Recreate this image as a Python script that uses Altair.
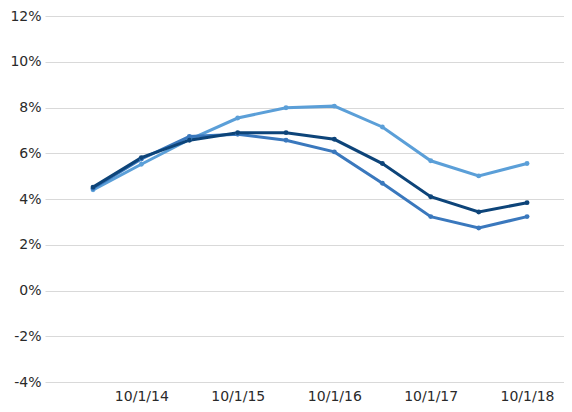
import altair as alt
import pandas as pd

dates = ["2014-04-01", "2014-10-01", "2015-04-01", "2015-10-01", "2016-04-01",
         "2016-10-01", "2017-04-01", "2017-10-01", "2018-04-01", "2018-10-01"]
series_dark = [4.52, 5.81, 6.57, 6.90, 6.90, 6.61, 5.55, 4.10, 3.43, 3.84]
series_medium = [4.47, 5.75, 6.73, 6.83, 6.57, 6.06, 4.69, 3.23, 2.73, 3.23]
series_light = [4.40, 5.52, 6.60, 7.54, 7.99, 8.06, 7.15, 5.67, 5.01, 5.55]

names = ["Light", "Medium", "Dark"]
colors = ["#5b9fd8", "#3a78bd", "#0d4479"]

rows = []
for name, vals in zip(names, [series_light, series_medium, series_dark]):
    for d, v in zip(dates, vals):
        rows.append({"date": d, "series": name, "value": v / 100.0})
df = pd.DataFrame(rows)

tick_dates = [alt.DateTime(year=y, month=10, date=1, utc=True) for y in range(2014, 2019)]

FONT = "DejaVu Sans"

base = alt.Chart(df).encode(
    x=alt.X("date:T",
            scale=alt.Scale(type="utc",
                            domain=[alt.DateTime(year=2013, month=10, date=1, utc=True),
                                    alt.DateTime(year=2019, month=2, date=18, utc=True)]),
            axis=alt.Axis(values=tick_dates,
                          labelExpr="utcFormat(datum.value, '%-m/%-d/%y')",
                          title=None, grid=False, ticks=False, domain=False,
                          labelPadding=7, labelFontSize=14, labelColor="#2a2a2a",
                          labelFont=FONT)),
    y=alt.Y("value:Q",
            scale=alt.Scale(domain=[-0.04, 0.12], nice=False),
            axis=alt.Axis(values=[-0.04, -0.02, 0, 0.02, 0.04, 0.06, 0.08, 0.10, 0.12],
                          labelExpr="replace(format(datum.value, '.0%'), '\u2212', '-')",
                          title=None, ticks=False, domain=False,
                          gridColor="#d9d9d9", gridWidth=1, labelPadding=4,
                          labelFontSize=14, labelColor="#2a2a2a", labelFont=FONT)),
    color=alt.Color("series:N", scale=alt.Scale(domain=names, range=colors), legend=None),
    order=alt.Order("date:T"),
)

lines = base.mark_line(strokeWidth=3)
points = base.mark_circle(size=24, opacity=1)

chart = alt.layer(lines, points).properties(
    width=519, height=366,
    autosize=alt.AutoSizeParams(type="none"),
    padding={"left": 37, "top": 8, "right": 0, "bottom": 22},
).configure_view(stroke=None)

chart.save("out.html", embed_options={"renderer": "svg", "actions": False})
